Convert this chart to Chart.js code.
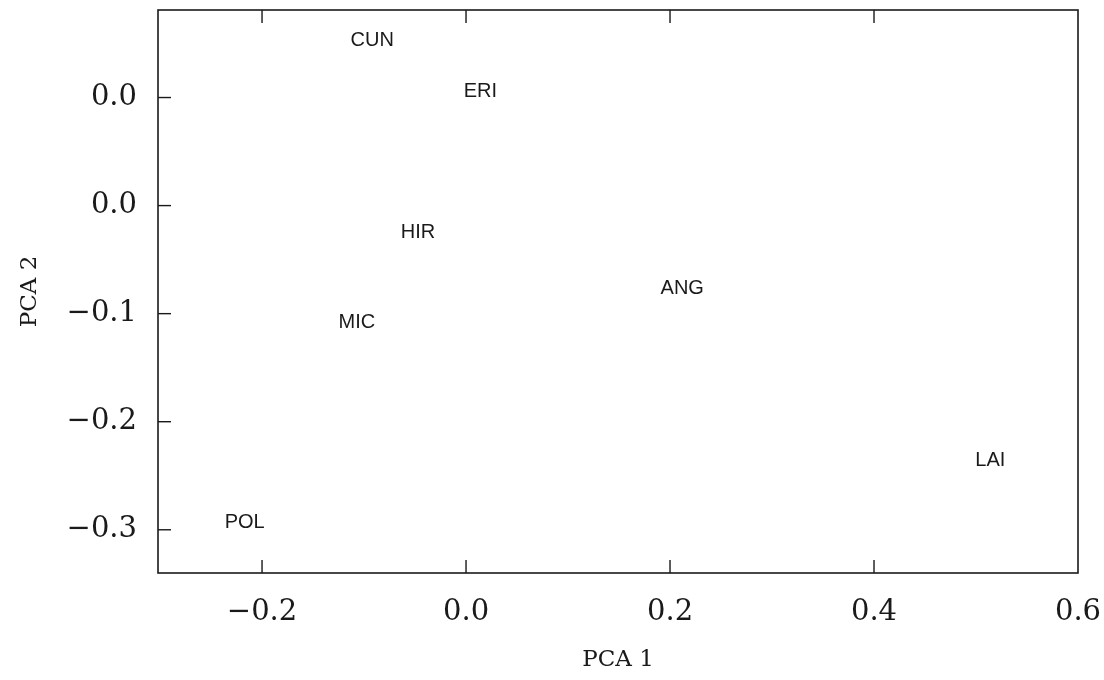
<!DOCTYPE html>
<html>
<head>
<meta charset="utf-8">
<style>
  html, body { margin: 0; padding: 0; background: #ffffff; }
  #wrap { width: 1104px; height: 680px; }
</style>
<script src="https://cdn.jsdelivr.net/npm/chart.js@4/dist/chart.umd.min.js"></script>
</head>
<body>
<div id="wrap"><canvas id="c" width="1104" height="680"></canvas></div>
<script>
// ---- data ----
const speciesLabels = ["CUN", "ERI", "HIR", "ANG", "MIC", "LAI", "POL"];
const pca1Values    = [-0.092, 0.014, -0.047, 0.212, -0.107, 0.514, -0.217];
const pca2Values    = [0.153, 0.106, -0.025, -0.077, -0.108, -0.236, -0.293];

const xTickValues = [-0.2, 0.0, 0.2, 0.4, 0.6];
const xTickLabels = ["\u22120.2", "0.0", "0.2", "0.4", "0.6"];
const yTickValues = [0.1, 0.0, -0.1, -0.2, -0.3];
const yTickLabels = ["0.0", "0.0", "\u22120.1", "\u22120.2", "\u22120.3"];

const xTitle = "PCA 1";
const yTitle = "PCA 2";

const ink = "#1a1a1a";

const points = pca1Values.map((x, i) => ({ x: x, y: pca2Values[i] }));

const framePlugin = {
  id: "frameAndLabels",
  afterDatasetsDraw(chart) {
    const ctx = chart.ctx;
    const a = chart.chartArea;
    const xs = chart.scales.x, ys = chart.scales.y;
    ctx.save();
    ctx.strokeStyle = ink;
    ctx.lineWidth = 1.6;
    ctx.strokeRect(a.left, a.top, a.right - a.left, a.bottom - a.top);
    // inward tick marks
    ctx.lineWidth = 1.4;
    xTickValues.forEach(v => {
      const px = xs.getPixelForValue(v);
      if (px > a.right - 2) return;
      ctx.beginPath();
      ctx.moveTo(px, a.bottom); ctx.lineTo(px, a.bottom - 13);
      ctx.moveTo(px, a.top); ctx.lineTo(px, a.top + 13);
      ctx.stroke();
    });
    yTickValues.forEach(v => {
      const py = ys.getPixelForValue(v);
      ctx.beginPath();
      ctx.moveTo(a.left, py); ctx.lineTo(a.left + 13, py);
      ctx.stroke();
    });
    // point labels
    const meta = chart.getDatasetMeta(0);
    ctx.fillStyle = ink;
    ctx.font = "20px 'Liberation Sans', Arial, sans-serif";
    ctx.textAlign = "center";
    ctx.textBaseline = "middle";
    meta.data.forEach((el, i) => {
      ctx.fillText(speciesLabels[i], el.x, el.y);
    });
    ctx.restore();
  }
};

function zeroPad(scale) {
  scale.paddingTop = 0;
  scale.paddingBottom = 0;
  scale.paddingLeft = 0;
  scale.paddingRight = 0;
}

new Chart(document.getElementById("c"), {
  type: "scatter",
  data: {
    datasets: [{
      label: "species",
      data: points,
      pointRadius: 0,
      pointHoverRadius: 0,
      showLine: false
    }]
  },
  options: {
    responsive: false,
    animation: false,
    events: [],
    layout: { padding: { top: 10, right: 26, left: 0, bottom: 0 } },
    plugins: { legend: { display: false }, tooltip: { enabled: false } },
    scales: {
      x: {
        type: "linear",
        min: -0.302,
        max: 0.6,
        grid: { display: false, drawTicks: false },
        border: { display: false },
        afterBuildTicks(scale) { scale.ticks = xTickValues.map(v => ({ value: v })); },
        afterFit(scale) { scale.height = 107; zeroPad(scale); },
        ticks: {
          color: ink,
          padding: 22,
          maxRotation: 0,
          autoSkip: false,
          font: { family: "'DejaVu Serif', serif", size: 29 },
          callback(value) {
            const i = xTickValues.findIndex(v => Math.abs(v - value) < 1e-9);
            return i >= 0 ? xTickLabels[i] : "";
          }
        },
        title: {
          display: true,
          text: xTitle,
          color: ink,
          font: { family: "'DejaVu Serif', serif", size: 23 },
          padding: { top: 0, bottom: 6 }
        }
      },
      y: {
        type: "linear",
        min: -0.34,
        max: 0.181,
        grid: { display: false, drawTicks: false },
        border: { display: false },
        afterBuildTicks(scale) { scale.ticks = yTickValues.map(v => ({ value: v })); },
        afterFit(scale) { scale.width = 158; zeroPad(scale); },
        ticks: {
          color: ink,
          padding: 21,
          autoSkip: false,
          font: { family: "'DejaVu Serif', serif", size: 29 },
          callback(value) {
            const i = yTickValues.findIndex(v => Math.abs(v - value) < 1e-9);
            return i >= 0 ? yTickLabels[i] : "";
          }
        },
        title: {
          display: true,
          text: yTitle,
          color: ink,
          font: { family: "'DejaVu Serif', serif", size: 23 },
          padding: { top: 16, bottom: 0 }
        }
      }
    }
  },
  plugins: [framePlugin]
});
</script>
</body>
</html>
